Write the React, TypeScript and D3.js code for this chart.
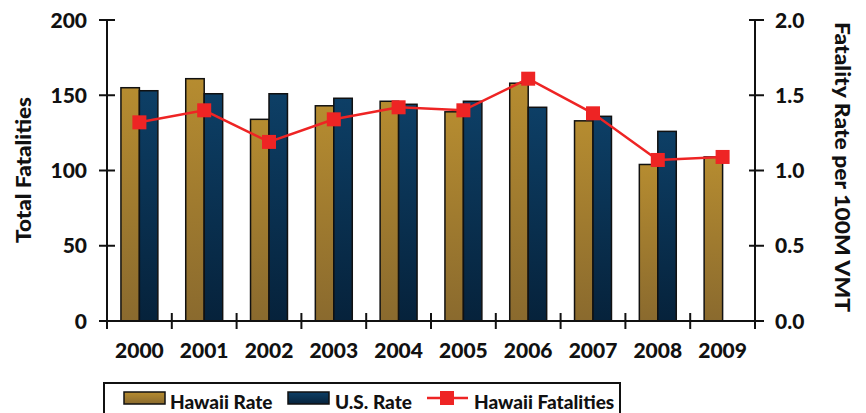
import React from "react";
import * as d3 from "d3";

const years = ["2000", "2001", "2002", "2003", "2004", "2005", "2006", "2007", "2008", "2009"];
const hawaiiRate: (number | null)[] = [1.55, 1.61, 1.34, 1.43, 1.46, 1.39, 1.58, 1.33, 1.04, 1.09];
const usRate: (number | null)[] = [1.53, 1.51, 1.51, 1.48, 1.44, 1.46, 1.42, 1.36, 1.26, null];
const hawaiiFatalities: number[] = [132, 140, 119, 134, 142, 140, 161, 138, 107, 109];
const leftTicks = [0, 50, 100, 150, 200];
const rightTicks = [0, 0.5, 1.0, 1.5, 2.0];

const W = 866, H = 413;
const m = { left: 107, right: 755, top: 20, bottom: 321 };
const FONT = "Lato, 'DejaVu Sans', sans-serif";

export default function App() {
  const x = d3.scaleBand<string>().domain(years).range([m.left, m.right]).padding(0);
  const yL = d3.scaleLinear().domain([0, 200]).range([m.bottom, m.top]);
  const yR = d3.scaleLinear().domain([0, 2]).range([m.bottom, m.top]);
  const bw = x.bandwidth();
  const barW = bw * 0.285;
  const line = d3.line<number>()
    .x((_, i) => (x(years[i]) as number) + bw / 2)
    .y((d) => yL(d));

  return (
    <svg width={W} height={H} style={{ position: "absolute", left: 0, top: 0 }} fontFamily={FONT}>
      <defs>
        <linearGradient id="gold" x1="0" y1="0" x2="0" y2="1">
          <stop offset="0" stopColor="#b68c30" />
          <stop offset="1" stopColor="#8a6a2e" />
        </linearGradient>
        <linearGradient id="blue" x1="0" y1="0" x2="0" y2="1">
          <stop offset="0" stopColor="#0d3f66" />
          <stop offset="1" stopColor="#06223b" />
        </linearGradient>
      </defs>
      <rect width={W} height={H} fill="#fff" />
      {years.map((yr, i) => {
        const cx = (x(yr) as number) + bw / 2;
        const h = hawaiiRate[i];
        const u = usRate[i];
        return (
          <g key={yr}>
            {h != null && (
              <rect x={cx - barW} y={yR(h)} width={barW} height={yR(0) - yR(h)}
                fill="url(#gold)" stroke="#111" strokeWidth={1.5} />
            )}
            {u != null && (
              <rect x={cx} y={yR(u)} width={barW} height={yR(0) - yR(u)}
                fill="url(#blue)" stroke="#111" strokeWidth={1.5} />
            )}
          </g>
        );
      })}
      <g stroke="#111" strokeWidth={2}>
        <line x1={m.left} x2={m.left} y1={m.top} y2={m.bottom} />
        <line x1={m.right} x2={m.right} y1={m.top} y2={m.bottom} />
        <line x1={m.left} x2={m.right} y1={m.bottom} y2={m.bottom} />
        {leftTicks.map((t) => (
          <line key={"l" + t} x1={m.left - 8} x2={m.left + 8} y1={yL(t)} y2={yL(t)} />
        ))}
        {rightTicks.map((t) => (
          <line key={"r" + t} x1={m.right - 6} x2={m.right + 9} y1={yR(t)} y2={yR(t)} />
        ))}
        {years.map((yr) => (
          <line key={"x" + yr} x1={x(yr) as number} x2={x(yr) as number} y1={m.bottom - 8} y2={m.bottom + 8} />
        ))}
        <line x1={m.right} x2={m.right} y1={m.bottom - 8} y2={m.bottom + 8} />
      </g>
      <path d={line(hawaiiFatalities) || ""} fill="none" stroke="#ee2424" strokeWidth={2.5} />
      {hawaiiFatalities.map((v, i) => (
        <rect key={"m" + i} x={(x(years[i]) as number) + bw / 2 - 7} y={yL(v) - 7} width={14} height={14} fill="#ee2424" />
      ))}
      <g fontSize={21} fontWeight={900} fill="#111">
        {leftTicks.map((t) => (
          <text key={"lt" + t} x={87} y={yL(t)} dy="0.36em" textAnchor="end">{t}</text>
        ))}
        {rightTicks.map((t) => (
          <text key={"rt" + t} x={775} y={yR(t)} dy="0.36em" textAnchor="start">{t.toFixed(1)}</text>
        ))}
        {years.map((yr) => (
          <text key={"xt" + yr} x={(x(yr) as number) + bw / 2} y={358} textAnchor="middle">{yr}</text>
        ))}
      </g>
      <text transform={`translate(31,170) rotate(-90)`} textAnchor="middle"
        fontSize={20} fontWeight={900} fill="#111" textLength={146} lengthAdjust="spacingAndGlyphs">Total Fatalities</text>
      <text transform={`translate(835,167) rotate(90)`} textAnchor="middle"
        fontSize={20} fontWeight={900} fill="#111" textLength={290} lengthAdjust="spacingAndGlyphs">Fatality Rate per 100M VMT</text>
      <rect x={104} y={383} width={516} height={40} fill="#fff" stroke="#111" strokeWidth={2} />
      <rect x={124} y={392} width={41} height={12} fill="url(#gold)" stroke="#111" strokeWidth={1.5} />
      <rect x={288} y={392} width={41} height={12} fill="url(#blue)" stroke="#111" strokeWidth={1.5} />
      <line x1={427} x2={468} y1={398} y2={398} stroke="#ee2424" strokeWidth={2.5} />
      <rect x={440} y={391} width={14} height={14} fill="#ee2424" />
      <g fontSize={19} fontWeight={900} fill="#111">
        <text x={170} y={409}>Hawaii Rate</text>
        <text x={335} y={409}>U.S. Rate</text>
        <text x={474} y={409}>Hawaii Fatalities</text>
      </g>
    </svg>
  );
}
